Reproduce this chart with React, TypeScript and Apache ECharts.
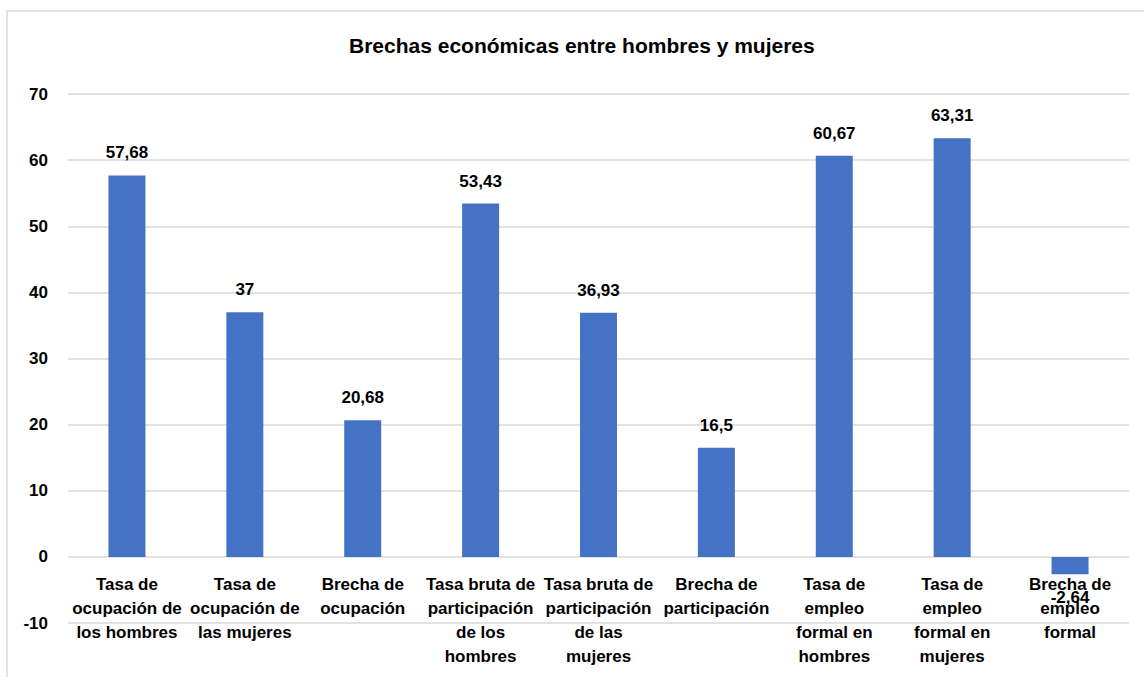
import React, { useEffect, useRef } from "react";
import * as echarts from "echarts";

const titleText = "Brechas económicas entre hombres y mujeres";
const categories = [
  "Tasa de\nocupación de\nlos hombres",
  "Tasa de\nocupación de\nlas mujeres",
  "Brecha de\nocupación",
  "Tasa bruta de\nparticipación\nde los\nhombres",
  "Tasa bruta de\nparticipación\nde las\nmujeres",
  "Brecha de\nparticipación",
  "Tasa de\nempleo\nformal en\nhombres",
  "Tasa de\nempleo\nformal en\nmujeres",
  "Brecha de\nempleo\nformal",
];
const values = [57.68, 37, 20.68, 53.43, 36.93, 16.5, 60.67, 63.31, -2.64];
const yMin = -10;
const yMax = 70;
const yStep = 10;

const FONT = "'Liberation Sans', Arial, sans-serif";

export default function App() {
  const ref = useRef<HTMLDivElement>(null);
  useEffect(() => {
    document.body.style.margin = "0";
    const chart = echarts.init(ref.current!, undefined, { renderer: "svg" });
    const fmt = (v: number) => String(v).replace(".", ",");
    chart.setOption({
      animation: false,
      backgroundColor: "#ffffff",
      graphic: [
        {
          type: "rect",
          shape: { x: 7, y: 11, width: 1200, height: 700 },
          style: { fill: "none", stroke: "#d9d9d9", lineWidth: 1.5 },
          silent: true,
        },
      ],
      title: {
        text: titleText,
        left: 344,
        top: 30,
        textStyle: { fontFamily: FONT, fontWeight: "bold", fontSize: 21, color: "#000" },
      },
      grid: { left: 68, right: 15, top: 94, bottom: 54, containLabel: false, outerBoundsMode: "none" },
      xAxis: {
        type: "category",
        data: categories,
        axisLine: { show: false, onZero: false },
        axisTick: { show: false },
        axisLabel: {
          interval: 0,
          margin: -51,
          fontFamily: FONT,
          fontWeight: "bold",
          fontSize: 17,
          lineHeight: 24,
          color: "#000",
        },
        z: 1,
      },
      yAxis: {
        type: "value",
        min: yMin,
        max: yMax,
        interval: yStep,
        axisLine: { show: false },
        axisTick: { show: false },
        splitLine: { lineStyle: { color: "#d9d9d9", width: 1.5 } },
        axisLabel: {
          margin: 20,
          fontFamily: FONT,
          fontWeight: "bold",
          fontSize: 17,
          color: "#000",
        },
      },
      series: [
        {
          type: "bar",
          data: values.map((v) => ({
            value: v,
            label: v < 0 ? { position: "bottom", distance: 15 } : undefined,
          })),
          barWidth: 37,
          itemStyle: { color: "#4472C4" },
          z: 2,
          label: {
            show: true,
            position: "top",
            distance: 14,
            formatter: (p: any) => fmt(p.value),
            fontFamily: FONT,
            fontWeight: "bold",
            fontSize: 17,
            color: "#000",
          },
        },
      ],
    });
    return () => chart.dispose();
  }, []);
  return (
    <div
      ref={ref}
      style={{ position: "fixed", left: 0, top: 0, width: 1144, height: 677 }}
    />
  );
}
